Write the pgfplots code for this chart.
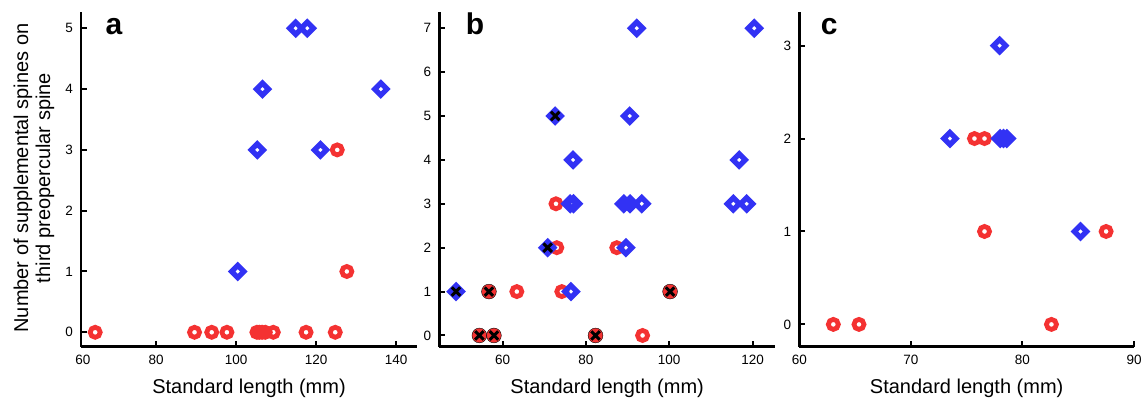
\documentclass[border=0pt]{standalone}
\usepackage{fontspec}
\setmainfont{Liberation Sans}
\usepackage{pgfplots}
\pgfplotsset{compat=1.18}

\definecolor{ringred}{RGB}{244,50,50}
\definecolor{dblue}{RGB}{50,50,244}

\pgfplotsset{
  panel/.style={
    scale only axis, height=335pt, anchor=south west,
    axis x line*=bottom, axis y line*=left,
    axis line style={line width=2.5pt, black, -},
    tick style={line width=2pt, black},
    major tick length=6pt, tick align=inside,
    ticklabel style={font=\fontsize{13.5}{15}\selectfont, inner sep=0pt},
    xticklabel shift=8.5pt, yticklabel shift=8pt,
    /pgf/number format/assume math mode=true,
    clip=false,
    xlabel={Standard length (mm)},
    xlabel style={font=\fontsize{20}{24}\selectfont, at={(axis description cs:0.5,0)},
      anchor=north, yshift=-32pt, inner sep=0pt},
  },
  ring/.style={only marks, mark=o, mark size=5pt, mark options={draw=ringred, line width=4.8pt}},
  dia/.style={only marks, mark=square, mark size=4.3pt, mark options={rotate=45, draw=dblue, line width=5.3pt}},
  dot/.style={only marks, mark=*, mark size=7.4pt, mark options={fill=ringred, draw=none}},
  diaf/.style={only marks, mark=square*, mark size=4.3pt, mark options={rotate=45, fill=dblue, draw=dblue, line width=5.3pt}},
  cross/.style={only marks, mark=x, mark size=6pt, mark options={draw=black, line width=3pt}},
}
\newcommand{\panelletter}[2]{\node[anchor=base west, xshift=#1, yshift=-23pt,
  font=\fontsize{30}{32}\selectfont\bfseries] at (rel axis cs:0,1) {#2};}

\begin{document}
\begin{tikzpicture}
\useasboundingbox (0,0) rectangle (1146pt,404pt);

\node[rotate=90, align=center, font=\fontsize{20}{22}\selectfont] at (34pt,226pt)
  {Number of supplemental spines on\\third preopercular spine};

% panel a
\begin{axis}[panel, at={(81pt,57.3pt)}, width=336pt,
  xmin=61.2, xmax=145.25, ymin=-0.237, ymax=5.273,
  xtick={80,100,120,140}, ytick={0,1,2,3,4,5}]
\addplot[ring] coordinates {
(64.75,0) (89.6,0) (93.9,0) (97.7,0) (105.2,0) (105.8,0) (106.5,0) (107.3,0)
(109.3,0) (117.5,0) (124.8,0) (125.3,3) (127.7,1)
};
\addplot[dia] coordinates {
(114.9,5) (117.8,5) (106.6,4) (136.2,4) (105.3,3) (121.1,3) (100.4,1)
};
\node[anchor=north, inner sep=0pt, yshift=-8.5pt, xshift=2pt,
  font=\fontsize{13.5}{15}\selectfont] at (rel axis cs:0,0) {60};
\panelletter{21pt}{a}
\end{axis}

% panel b
\begin{axis}[panel, at={(439.3pt,57.3pt)}, width=335.7pt,
  xmin=44.78, xmax=125.4, ymin=-0.256, ymax=7.377,
  xtick={60,80,100,120}, ytick={0,1,2,3,4,5,6,7}]
\addplot[ring] coordinates {
(72.8,3) (73.0,2) (87.4,2) (63.4,1) (74.2,1) (93.6,0)
};
\addplot[dot] coordinates {
(56.7,1) (100.2,1) (54.4,0) (57.9,0) (82.3,0)
};
\addplot[dia] coordinates {
(92.2,7) (120.4,7) (90.5,5) (76.9,4) (116.8,4) (76.2,3) (77.0,3) (89.1,3)
(90.6,3) (93.4,3) (115.4,3) (118.6,3) (89.6,2) (76.4,1)
};
\addplot[diaf] coordinates {
(48.8,1) (70.8,2) (72.6,5)
};
\addplot[cross] coordinates {
(56.7,1) (100.2,1) (54.4,0) (57.9,0) (82.3,0) (48.8,1) (70.8,2) (72.6,5)
};
\panelletter{23pt}{b}
\end{axis}

% panel c
\begin{axis}[panel, at={(799.3pt,57.3pt)}, width=334.7pt,
  xmin=60, xmax=90, ymin=-0.24, ymax=3.365,
  xtick={60,70,80,90}, ytick={0,1,2,3}]
\addplot[ring] coordinates {
(63.05,0) (65.35,0) (82.6,0) (76.6,1) (87.5,1) (75.7,2) (76.6,2)
};
\addplot[dia] coordinates {
(77.95,3) (73.5,2) (78.0,2) (78.3,2) (78.6,2) (85.2,1)
};
\panelletter{18pt}{c}
\end{axis}
\end{tikzpicture}
\end{document}
